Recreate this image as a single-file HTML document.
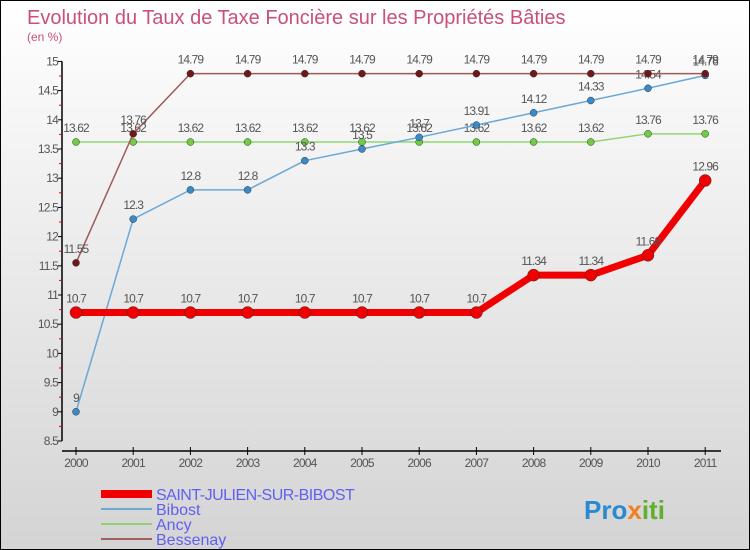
<!DOCTYPE html>
<html><head><meta charset="utf-8"><style>
body{margin:0}
#c{width:750px;height:550px;position:relative;box-sizing:border-box;border:1px solid #000;background:linear-gradient(#ffffff,#d4d4d4);font-family:"Liberation Sans",sans-serif;overflow:hidden}
</style></head><body>
<div id="c">
<svg id="s" width="748" height="548" xmlns="http://www.w3.org/2000/svg">
<text x="26" y="23" font-size="20" fill="#c8507a">Evolution du Taux de Taxe Foncière sur les Propriétés Bâties</text>
<text x="26" y="40" font-size="12" fill="#c8507a">(en %)</text>
<g id="axes"></g><g id="series"></g>
<g>
<rect x="100" y="489" width="51" height="8" fill="#f00000"/>
<text x="155" y="499" font-size="16" fill="#6060f0" letter-spacing="-0.5">SAINT-JULIEN-SUR-BIBOST</text>
<line x1="100" y1="508" x2="151" y2="508" stroke="#6fa8d0" stroke-width="2"/>
<text x="155" y="514" font-size="16" fill="#6060f0">Bibost</text>
<line x1="100" y1="523" x2="151" y2="523" stroke="#90d070" stroke-width="2"/>
<text x="155" y="529" font-size="16" fill="#6060f0">Ancy</text>
<line x1="100" y1="538" x2="151" y2="538" stroke="#a06060" stroke-width="2"/>
<text x="155" y="544" font-size="16" fill="#6060f0">Bessenay</text>
</g>
<text x="583" y="518" font-size="26" font-weight="bold" fill="#2a8ad0">Pro<tspan fill="#f08020">x</tspan><tspan fill="#60b030">iti</tspan></text>
</svg></div>
<script>
const years=["2000","2001","2002","2003","2004","2005","2006","2007","2008","2009","2010","2011"];
const yTicks=[8.5,9,9.5,10,10.5,11,11.5,12,12.5,13,13.5,14,14.5,15];
const saintJulien=[10.7,10.7,10.7,10.7,10.7,10.7,10.7,10.7,11.34,11.34,11.68,12.96];
const bibost=[9,12.3,12.8,12.8,13.3,13.5,13.7,13.91,14.12,14.33,14.54,14.76];
const ancy=[13.62,13.62,13.62,13.62,13.62,13.62,13.62,13.62,13.62,13.62,13.76,13.76];
const bessenay=[11.55,13.76,14.79,14.79,14.79,14.79,14.79,14.79,14.79,14.79,14.79,14.79];
const NS="http://www.w3.org/2000/svg";
const X=i=>75+i*57.2, Y=v=>440-(v-8.5)*58.4;
function mk(t,a,p){const e=document.createElementNS(NS,t);for(const k in a)e.setAttribute(k,a[k]);p.appendChild(e);return e;}
const ax=document.getElementById('axes');
mk('line',{x1:61,y1:Y(15),x2:61,y2:Y(8.5),stroke:'#000','stroke-width':1.5},ax);
yTicks.forEach((v,i)=>{
 mk('line',{x1:57,y1:Y(v),x2:61,y2:Y(v),stroke:'#000'},ax);
 if(i<yTicks.length-1) mk('line',{x1:58,y1:Y(v+0.25),x2:61,y2:Y(v+0.25),stroke:'#e00'},ax);
 const t=mk('text',{x:57,y:Y(v)+4,'font-size':12,fill:'#555','text-anchor':'end','letter-spacing':'-0.8'},ax);
 
 
 t.textContent=v;
});
const xa=mk('line',{x1:61,y1:450,x2:720,y2:450,stroke:'#000','stroke-width':1.5},ax);

years.forEach((y,i)=>{
 mk('line',{x1:X(i),y1:446,x2:X(i),y2:454,stroke:'#000'},ax);
 const t=mk('text',{x:X(i),y:466,'font-size':12,fill:'#555','text-anchor':'middle','letter-spacing':'-0.8'},ax);
 
 
 t.textContent=y;
});
const sg=document.getElementById('series');
function draw(data,name,color,w,r,dot){
 const g=mk('g',{},sg);
 
 
 mk('polyline',{points:data.map((v,i)=>X(i)+','+Y(v)).join(' '),fill:'none',stroke:color,'stroke-width':w,'stroke-linejoin':'round'},g);
 data.forEach((v,i)=>{
  const c=mk('circle',{cx:X(i),cy:Y(v),r:r,fill:dot,stroke:'#333','stroke-width':0.5},g);
  
  
  const t=mk('text',{x:X(i),y:Y(v)-10,'font-size':12,fill:'#555','text-anchor':'middle','letter-spacing':'-0.9'},g);
  
  
  t.textContent=v;
 });
}
draw(ancy,'ancy','#90d870',1.5,3.5,'#70cc40');
draw(bibost,'bibost','#6aa8d8',1.5,3.5,'#3a8ac8');
draw(bessenay,'bessenay','#a05858',1.5,3.5,'#701818');
draw(saintJulien,'saint-julien','#f00000',7,6,'#f00000');
</script>
</body></html>
